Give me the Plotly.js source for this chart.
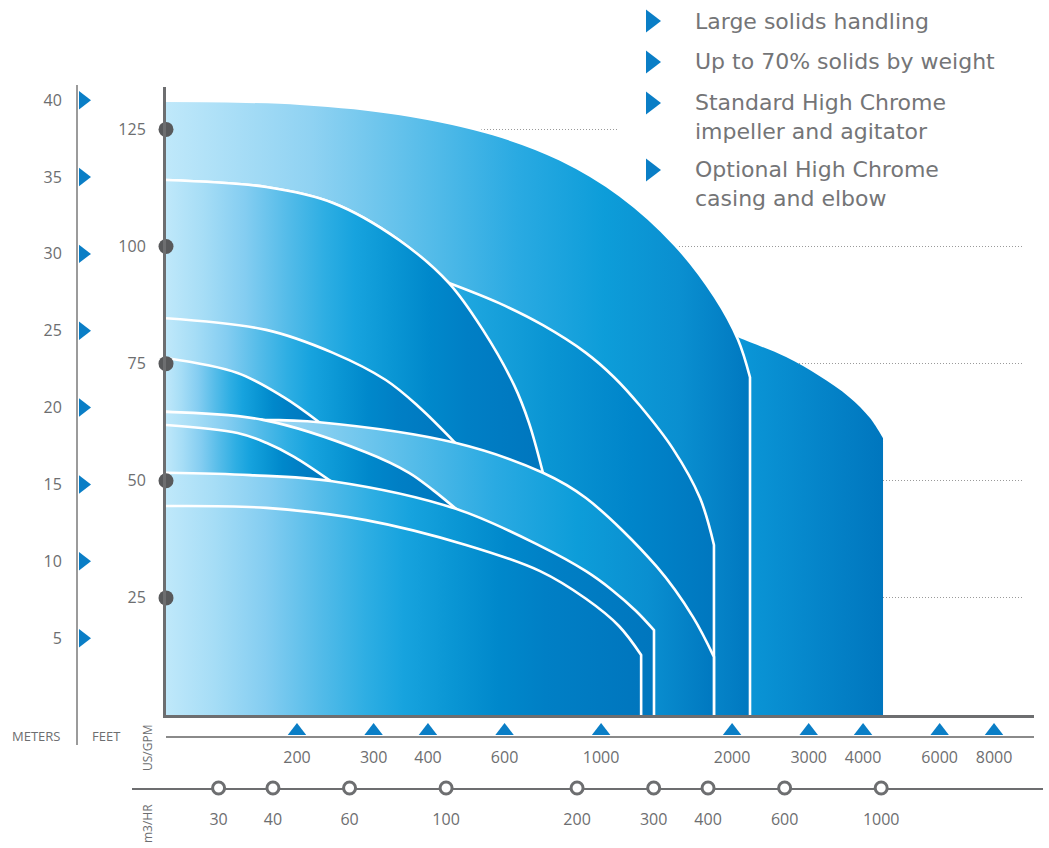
<!DOCTYPE html>
<html><head><meta charset="utf-8">
<script src="https://cdn.plot.ly/plotly-3.0.1.min.js"></script>
<style>html,body{margin:0;padding:0;background:#fff}#chart{width:1049px;height:848px}</style>
</head><body><div id="chart"></div>
<script>
// ---------------- data ----------------
const feetTicks  = [25, 50, 75, 100, 125];
const meterTicks = [5, 10, 15, 20, 25, 30, 35, 40];
const gpmTicks   = [200, 300, 400, 600, 1000, 2000, 3000, 4000, 6000, 8000];
const m3hrTicks  = [30, 40, 60, 100, 200, 300, 400, 600, 1000];
const features = ["Large solids handling", "Up to 70% solids by weight",
                  "Standard High Chrome<br>impeller and agitator",
                  "Optional High Chrome<br>casing and elbow"];

// performance envelopes: flow (US GPM) vs head (feet)
const outerGpm = [100, 203, 345, 564, 804, 1105, 1479, 1827, 2064, 2199];
const outerFt  = [131.1, 130.5, 128.3, 124.0, 118.6, 110.9, 100.3, 89.2, 80.1, 72.1];
const rightGpm = [1926, 2075, 2661, 3168, 3713, 4150, 4446];
const rightFt  = [81.8, 80.5, 76.4, 72.4, 67.9, 63.4, 59.1];
const curveAGpm  = [100, 170, 242, 343, 447, 535, 631, 683, 735];
const curveAFt   = [114.2, 112.7, 109.3, 101.4, 92.2, 82.2, 70.4, 62.3, 51.7];
const curveA2Gpm = [447, 583, 735, 923, 1071, 1229, 1463, 1688, 1817];
const curveA2Ft  = [92.2, 87.9, 83.2, 77.3, 72.1, 66.0, 56.8, 46.3, 36.3];
const curveBGpm  = [100, 170, 242, 320, 382, 462];
const curveBFt   = [84.7, 82.2, 77.3, 71.5, 65.7, 58.1];
const curveCGpm  = [100, 146, 186, 225];
const curveCFt   = [76.2, 73.0, 67.9, 62.5];
const curveDGpm  = [100, 167, 288, 362, 411, 464];
const curveDFt   = [64.7, 63.0, 56.1, 51.7, 48.0, 44.0];
const curveD2Gpm = [167, 225, 462, 735, 923, 1344, 1627, 1817];
const curveD2Ft  = [63.0, 62.5, 58.1, 51.7, 46.3, 31.6, 20.9, 12.4];
const curveEGpm  = [100, 146, 170, 197, 241];
const curveEFt   = [61.9, 60.2, 58.1, 55.1, 49.7];
const curveFGpm  = [100, 156, 241, 464, 724, 923, 1059, 1203, 1323];
const curveFFt   = [51.7, 51.2, 49.9, 44.0, 36.1, 30.7, 26.7, 22.2, 18.1];
const curveGGpm  = [100, 170, 288, 489, 724, 923, 1099, 1236];
const curveGFt   = [44.6, 44.2, 41.6, 36.3, 30.7, 24.8, 19.0, 12.8];

const M3HR_TO_GPM = 4.402868;
const FT_PER_M = 3.28084;

// ---------------- layout geometry ----------------
const W = 1049, H = 848;
const PX_DEC = 435.1;           // pixels per decade of flow
const FT_PX = 4.685;            // pixels per foot of head
const plotL = 166, plotR = 1034, plotT = 87, plotB = 715;
const px = v => v / W;
const py = v => 1 - v / H;
const xRange = [2, 2 + (plotR - plotL) / PX_DEC];
const yRange = [0, (plotB - plotT) / FT_PX];
const gpmLogAt = p => xRange[0] + (p - plotL) / PX_DEC;
const M_PX = FT_PX * FT_PER_M;

const FONT = 'Open Sans, Lato, Arial, sans-serif';
const LEGFONT = 'DejaVu Sans, Open Sans, sans-serif';
const TXT = '#6d6e70';
const LEGTXT = '#747577';
const BLUE = '#0a7ec6';
const AXIS = '#6d6e70';

const scaleStd = [[0,'#bfe8fa'],[0.1,'#a6ddf6'],[0.21,'#84cdf1'],[0.32,'#55bce9'],[0.42,'#2eaee3'],
                  [0.5,'#17a3de'],[0.6,'#0a96d4'],[0.7,'#0088cb'],[0.8,'#007fc5'],[1,'#0076be']];
const scaleLight = [[0,'#bfe8fa'],[0.25,'#8fd2f2'],[0.45,'#55bce9'],[0.6,'#2aaae2'],
                    [0.75,'#0d9dd9'],[0.88,'#0a8fd0'],[1,'#0078c0']];
const scaleMid = [[0,'#bfe8fa'],[0.2,'#90d2f2'],[0.4,'#4cb8e8'],[0.55,'#1ea6df'],
                  [0.7,'#0a95d3'],[0.85,'#0085ca'],[1,'#0077bf']];
const scaleRight = [[0,'#0c9ada'],[1,'#0076be']];

function envelope(xs, ys, scale, lineW) {
  const n = xs.length;
  return {
    type: 'scatter', mode: 'lines', xaxis: 'x', yaxis: 'y',
    x: xs.concat([xs[n-1], xs[n-1]]),
    y: ys.concat([ys[n-1], 0]),
    fill: 'tozeroy',
    fillgradient: {type: 'horizontal', colorscale: scale},
    line: {color: '#ffffff', width: lineW, shape: 'spline', smoothing: 1, simplify: false},
    hoverinfo: 'skip', showlegend: false
  };
}
const branch = (baseX, baseY, k, bx, by) => [baseX.slice(0, k + 1).concat(bx), baseY.slice(0, k + 1).concat(by)];
const a2 = branch(curveAGpm, curveAFt, 4, curveA2Gpm, curveA2Ft);
const d2 = branch(curveDGpm, curveDFt, 1, curveD2Gpm, curveD2Ft);

const traces = [
  envelope(rightGpm, rightFt, scaleRight, 0),
  envelope(outerGpm, outerFt, scaleLight, 2.6),
  envelope(a2[0], a2[1], scaleMid, 2.6),
  envelope(curveAGpm, curveAFt, scaleStd, 2.6),
  envelope(curveBGpm, curveBFt, scaleStd, 2.6),
  envelope(curveCGpm, curveCFt, scaleStd, 2.6),
  envelope(d2[0], d2[1], scaleLight, 2.6),
  envelope(curveDGpm, curveDFt, scaleStd, 2.6),
  envelope(curveEGpm, curveEFt, scaleStd, 2.6),
  envelope(curveFGpm, curveFFt, scaleStd, 2.6),
  envelope(curveGGpm, curveGFt, scaleStd, 2.6)
];

// feet tick dots on the head axis
traces.push({type:'scatter', mode:'markers', xaxis:'x', yaxis:'y', cliponaxis:false,
  x: feetTicks.map(() => Math.pow(10, xRange[0])), y: feetTicks,
  marker:{symbol:'circle', size:15, color:'#58595b'}, hoverinfo:'skip', showlegend:false});
// meter triangles
traces.push({type:'scatter', mode:'markers', xaxis:'x3', yaxis:'y3', cliponaxis:false,
  x: meterTicks.map(() => 5), y: meterTicks,
  marker:{symbol:'triangle-right', size:16, color:BLUE}, hoverinfo:'skip', showlegend:false});
// GPM triangles
traces.push({type:'scatter', mode:'markers', xaxis:'x2', yaxis:'y2', cliponaxis:false,
  x: gpmTicks, y: gpmTicks.map(() => 0),
  marker:{symbol:'triangle-up', size:16, color:BLUE}, hoverinfo:'skip', showlegend:false});
// m3/hr circles
traces.push({type:'scatter', mode:'markers', xaxis:'x4', yaxis:'y4', cliponaxis:false,
  x: m3hrTicks, y: m3hrTicks.map(() => 0),
  marker:{symbol:'circle', size:12, color:'#ffffff', line:{color:AXIS, width:3}}, hoverinfo:'skip', showlegend:false});

// feature list
const LEG_SIZE = 22, LEG_LINE = LEG_SIZE * 1.3;
const annotations = [];
const bulletY = [];
let yCur = 21;
features.forEach(f => {
  const n = f.split('<br>').length;
  bulletY.push(yCur);
  annotations.push({
    text: f, xref:'paper', yref:'paper', x: px(693), y: py(yCur + (n - 1) * LEG_LINE / 2),
    xanchor:'left', yanchor:'middle', align:'left', showarrow:false,
    font:{family:LEGFONT, size:LEG_SIZE, color:LEGTXT}
  });
  yCur += 41 + 26 * (n - 1);
});
traces.push({type:'scatter', mode:'markers', xaxis:'x5', yaxis:'y5', cliponaxis:false,
  x: bulletY.map(() => 651), y: bulletY,
  marker:{symbol:'triangle-right', size:20, color:BLUE}, hoverinfo:'skip', showlegend:false});

const small = {family:FONT, size:13, color:TXT};
annotations.push({text:'METERS', xref:'paper', yref:'paper', x:px(36), y:py(736), xanchor:'center', yanchor:'middle', showarrow:false, font:small});
annotations.push({text:'FEET', xref:'paper', yref:'paper', x:px(106), y:py(736), xanchor:'center', yanchor:'middle', showarrow:false, font:small});
annotations.push({text:'US/GPM', xref:'paper', yref:'paper', x:px(147), y:py(748), xanchor:'center', yanchor:'middle', textangle:-90, showarrow:false, font:{family:FONT, size:12, color:TXT}});
annotations.push({text:'m3/HR', xref:'paper', yref:'paper', x:px(147), y:py(824), xanchor:'center', yanchor:'middle', textangle:-90, showarrow:false, font:{family:FONT, size:12, color:TXT}});

const tickFont = {family:FONT, size:16, color:TXT};
const clear = 'rgba(0,0,0,0)';
const m3Off = Math.log10(M3HR_TO_GPM);

const layout = {
  width: W, height: H, autosize: false,
  margin: {l:0, r:0, t:0, b:0},
  paper_bgcolor: '#ffffff', plot_bgcolor: '#ffffff',
  showlegend: false,
  xaxis: {type:'log', range:xRange, domain:[px(plotL), px(plotR)], anchor:'y',
    showline:true, linecolor:AXIS, linewidth:3, showticklabels:false, ticks:'',
    showgrid:false, zeroline:false, fixedrange:true},
  yaxis: {range:yRange, domain:[py(plotB), py(plotT)], anchor:'x',
    showline:true, linecolor:AXIS, linewidth:3,
    tickmode:'array', tickvals:feetTicks, ticktext:feetTicks.map(String),
    ticks:'outside', ticklen:14, tickcolor:clear, tickfont:tickFont,
    showgrid:true, gridcolor:'#9a9a9a', gridwidth:1, griddash:'1px,2px',
    zeroline:false, fixedrange:true},
  xaxis2: {type:'log', range:xRange, domain:[px(plotL), px(plotR)], anchor:'y2',
    showline:true, linecolor:'#8a8a8a', linewidth:2,
    tickmode:'array', tickvals:gpmTicks, ticktext:gpmTicks.map(String),
    ticks:'outside', ticklen:6, tickcolor:clear, tickfont:tickFont,
    showgrid:false, zeroline:false, fixedrange:true},
  yaxis2: {domain:[py(736), py(716)], range:[-0.25, 0.75], anchor:'x2', visible:false, fixedrange:true},
  xaxis3: {domain:[px(78), px(100)], range:[0, 22], anchor:'y3', visible:false, fixedrange:true},
  yaxis3: {domain:[py(745), py(85)], range:[(plotB - 745) / M_PX, (plotB - 85) / M_PX], anchor:'x3',
    side:'left', showline:true, linecolor:'#9b9b9b', linewidth:2,
    tickmode:'array', tickvals:meterTicks, ticktext:meterTicks.map(String),
    ticks:'outside', ticklen:11, tickcolor:clear, tickfont:tickFont,
    showgrid:false, zeroline:false, fixedrange:true},
  xaxis4: {type:'log', range:[gpmLogAt(132) - m3Off, gpmLogAt(1043) - m3Off],
    domain:[px(132), px(1043)], anchor:'y4', layer:'below traces',
    showline:true, linecolor:AXIS, linewidth:2,
    tickmode:'array', tickvals:m3hrTicks, ticktext:m3hrTicks.map(String),
    ticks:'outside', ticklen:16, tickcolor:clear, tickfont:tickFont,
    showgrid:false, zeroline:false, fixedrange:true},
  yaxis4: {domain:[py(788), py(776)], range:[0, 1], anchor:'x4', visible:false, fixedrange:true},
  xaxis5: {domain:[px(630), px(672)], range:[630, 672], anchor:'y5', visible:false, fixedrange:true},
  yaxis5: {domain:[py(200), py(0)], range:[200, 0], anchor:'x5', visible:false, fixedrange:true},
  shapes: [
    // keep the feature list clear of the dotted 125 ft guide
    {type:'rect', xref:'paper', yref:'paper', x0:px(617), x1:1, y0:py(146), y1:py(117),
     fillcolor:'#ffffff', line:{width:0}, layer:'above'},
    // dotted guides stop short of the right edge
    {type:'rect', xref:'paper', yref:'paper', x0:px(1022), x1:1, y0:py(711), y1:py(88),
     fillcolor:'#ffffff', line:{width:0}, layer:'above'}
  ],
  annotations: annotations
};

Plotly.newPlot('chart', traces, layout, {displayModeBar:false, staticPlot:true});
</script>
</body></html>
